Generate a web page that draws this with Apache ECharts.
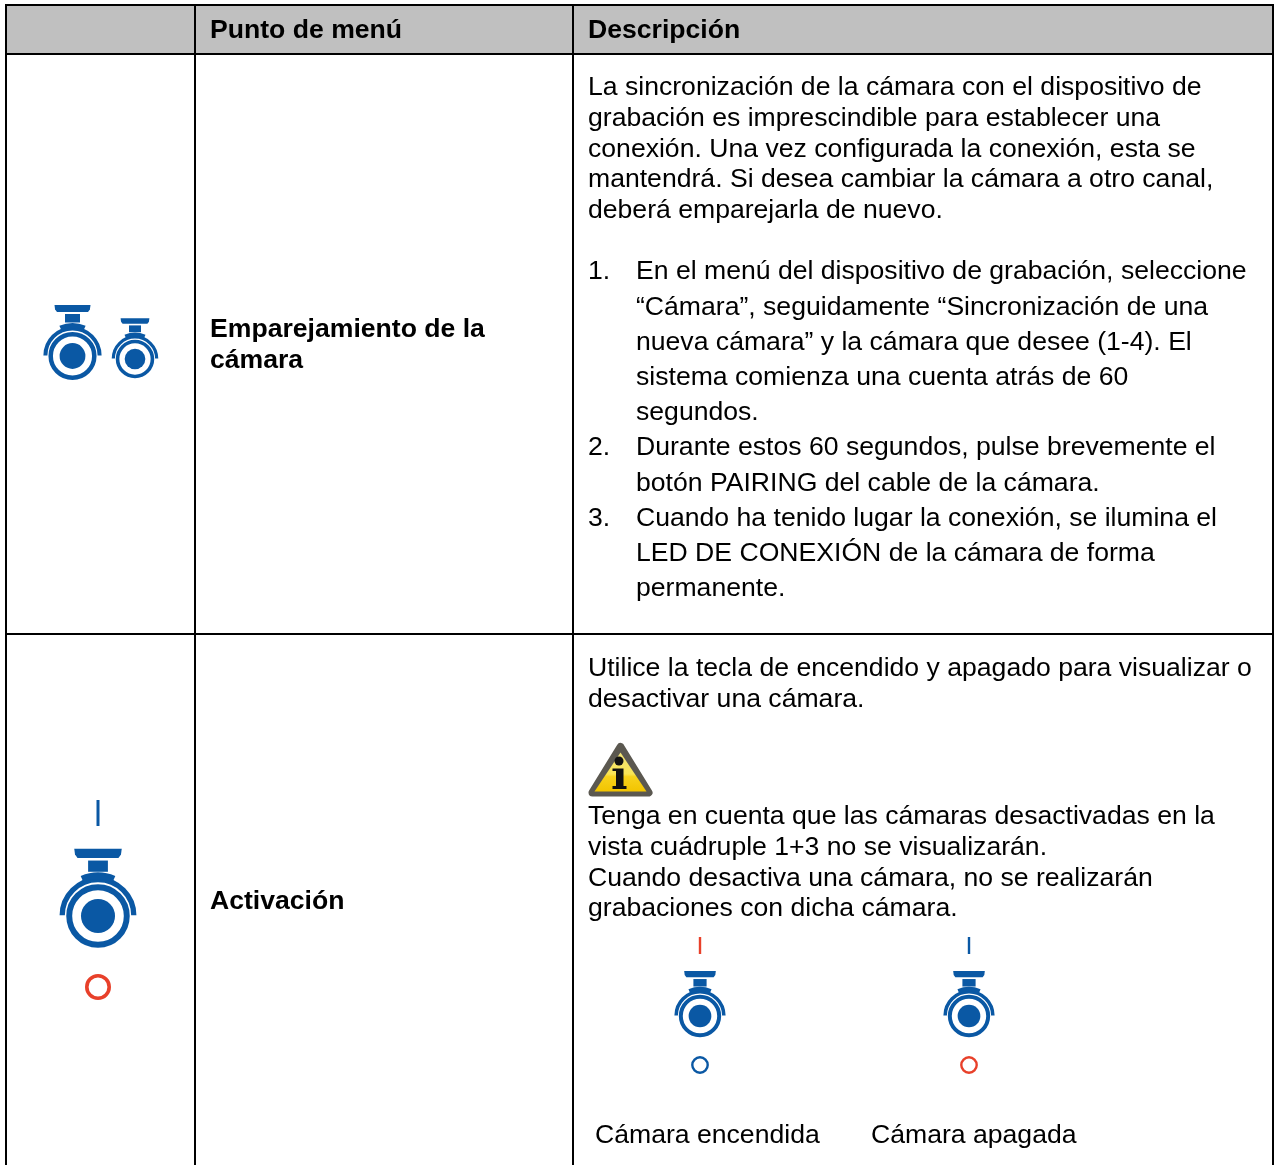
<!DOCTYPE html>
<html><head><meta charset="utf-8">
<style>html,body{margin:0;padding:0;background:#fff}#c{width:1280px;height:1165px}</style>
<script src="https://cdn.jsdelivr.net/npm/echarts@6/dist/echarts.min.js"></script>
</head><body><div id="c"></div>
<script>
const headerLabels = ['Punto de menú', 'Descripción'];
const rowTitlesPairing = ['Emparejamiento de la', 'cámara'];
const rowTitlesActivation = ['Activación'];
const pairingIntro = [
  'La sincronización de la cámara con el dispositivo de',
  'grabación es imprescindible para establecer una',
  'conexión. Una vez configurada la conexión, esta se',
  'mantendrá. Si desea cambiar la cámara a otro canal,',
  'deberá emparejarla de nuevo.'
];
const stepNumbers = ['1.', '', '', '', '', '2.', '', '3.', '', ''];
const stepLines = [
  'En el menú del dispositivo de grabación, seleccione',
  '“Cámara”, seguidamente “Sincronización de una',
  'nueva cámara” y la cámara que desee (1-4). El',
  'sistema comienza una cuenta atrás de 60',
  'segundos.',
  'Durante estos 60 segundos, pulse brevemente el',
  'botón PAIRING del cable de la cámara.',
  'Cuando ha tenido lugar la conexión, se ilumina el',
  'LED DE CONEXIÓN de la cámara de forma',
  'permanente.'
];
const activationIntro = [
  'Utilice la tecla de encendido y apagado para visualizar o',
  'desactivar una cámara.'
];
const activationNote = [
  'Tenga en cuenta que las cámaras desactivadas en la',
  'vista cuádruple 1+3 no se visualizarán.',
  'Cuando desactiva una cámara, no se realizarán',
  'grabaciones con dicha cámara.'
];
const cameraCaptions = ['Cámara encendida', 'Cámara apagada'];

const BLUE = '#0a58a4', RED = '#e8402a', FONT = '"Liberation Sans", Arial, sans-serif', SIZE = 26.6;
const g = [];
const rect = (x, y, w, h, fill, r) => g.push({type:'rect', shape:{x,y,width:w,height:h,r:r||0}, style:{fill}, silent:true});
const text = (x, y, t, bold) => { if (t) g.push({type:'text', x, y: y + 2, style:{text:t, x:0, y:0, fill:'#000', font:(bold?'bold ':'')+SIZE+'px '+FONT, verticalAlign:'middle', align:'left'}, silent:true}); };
const block = (x, y, step, lines, bold) => lines.forEach((t, i) => text(x, y + i * step, t, bold));

function camera(cx, cy, s) {
  g.push({type:'polygon', shape:{points:[[cx-18*s,cy-51*s],[cx+18*s,cy-51*s],[cx+17.4*s,cy-46.5*s],[cx+15.5*s,cy-44*s],[cx-15.5*s,cy-44*s],[cx-17.4*s,cy-46.5*s]]}, style:{fill:BLUE}, silent:true});
  rect(cx-7.5*s, cy-42*s, 15*s, 8.5*s, BLUE);
  g.push({type:'arc', shape:{cx, cy:cy-0.5*s, r:27.1*s, startAngle:Math.PI, endAngle:2*Math.PI, clockwise:true}, style:{fill:'none', stroke:BLUE, lineWidth:4*s}, silent:true});
  g.push({type:'arc', shape:{cx, cy:cy, r:30.5*s, startAngle:Math.PI*1.37, endAngle:Math.PI*1.63, clockwise:true}, style:{fill:'none', stroke:BLUE, lineWidth:5*s}, silent:true});
  g.push({type:'circle', shape:{cx, cy, r:21.8*s}, style:{fill:'#fff', stroke:BLUE, lineWidth:4.5*s}, silent:true});
  g.push({type:'circle', shape:{cx, cy, r:12.9*s}, style:{fill:BLUE}, silent:true});
}
function powerMarks(cx, lineTop, lineBottom, lineW, lineColor, circY, circR, circW, circColor) {
  rect(cx-lineW/2, lineTop, lineW, lineBottom-lineTop, lineColor);
  g.push({type:'circle', shape:{cx, cy:circY, r:circR}, style:{fill:'none', stroke:circColor, lineWidth:circW}, silent:true});
}
function warning() {
  g.push({type:'polygon', shape:{points:[[620.5,747],[648.5,792.5],[592.5,792.5]]},
    style:{fill:'#5b5850', stroke:'#5b5850', lineWidth:8, lineJoin:'round'}, silent:true});
  g.push({type:'polygon', shape:{points:[[620.5,752.5],[646.5,791.5],[594.5,791.5]]},
    style:{fill:{type:'linear',x:0,y:0,x2:0,y2:1,colorStops:[{offset:0,color:'#f3e57a'},{offset:.55,color:'#f9e455'},{offset:.62,color:'#f7d21c'},{offset:1,color:'#f2c400'}]}}, silent:true});
  g.push({type:'circle', shape:{cx:619, cy:761, r:4.5}, style:{fill:'#111'}, silent:true});
  g.push({type:'polygon', shape:{points:[[612.5,768.5],[623.5,768.5],[623.5,786],[626.5,786],[626.5,789],[612.5,789],[612.5,786],[616,786],[616,771],[612.5,771]]}, style:{fill:'#111'}, silent:true});
}

// header fill + grid
rect(6, 5, 1267, 49, '#c0c0c0');
rect(5, 4, 2, 1161, '#000');
rect(194, 4, 2, 1161, '#000');
rect(572, 4, 2, 1161, '#000');
rect(1272, 4, 2, 1161, '#000');
rect(5, 4, 1269, 2, '#000');
rect(5, 53, 1269, 2, '#000');
rect(5, 633, 1269, 2, '#000');

text(210, 29, headerLabels[0], true);
text(588, 29, headerLabels[1], true);
block(210, 328, 31, rowTitlesPairing, true);
block(210, 900, 31, rowTitlesActivation, true);

block(588, 86, 30.6, pairingIntro);
stepLines.forEach((t, i) => { const y = 270 + i * 35.2; text(588, y, stepNumbers[i]); text(636, y, t); });
block(588, 667, 30.5, activationIntro);
warning();
block(588, 815, 30.6, activationNote);

camera(72.5, 356, 1);
camera(135, 359, 0.8);
camera(98, 916, 1.32);
powerMarks(98, 800, 826, 3, BLUE, 987, 11.2, 3.6, RED);
camera(700, 1016, 0.88);
powerMarks(700, 937, 954, 2.4, RED, 1065, 7.7, 2.4, BLUE);
camera(969, 1016, 0.88);
powerMarks(969, 937, 954, 2.4, BLUE, 1065, 7.7, 2.4, RED);

text(595, 1134, cameraCaptions[0]);
text(871, 1134, cameraCaptions[1]);

const chart = echarts.init(document.getElementById('c'), null, {renderer:'canvas', width:1280, height:1165});
chart.setOption({animation:false, backgroundColor:'#fff', graphic:{elements:g}});
</script></body></html>
